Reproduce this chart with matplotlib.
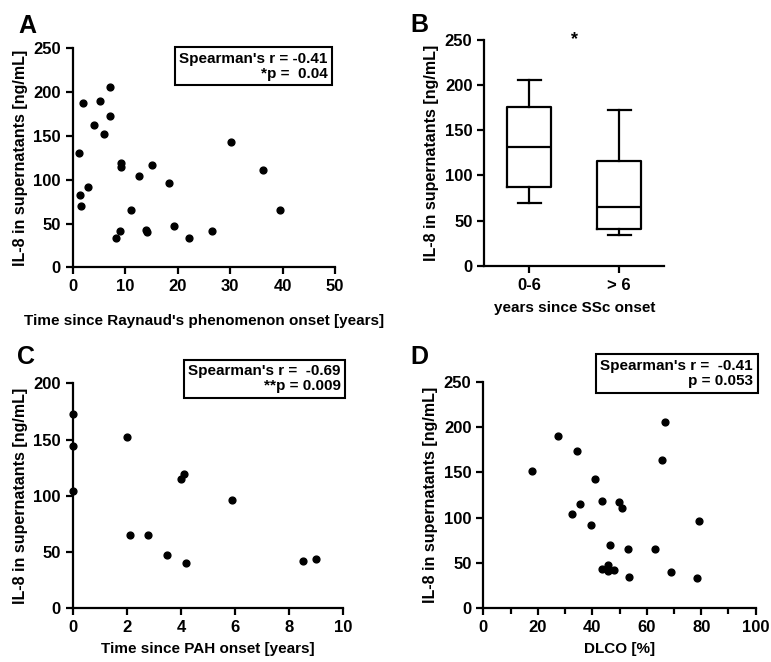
import matplotlib
matplotlib.use('Agg')
import matplotlib.pyplot as plt
from matplotlib.ticker import MultipleLocator

plt.rcParams['font.family'] = ['Liberation Sans', 'DejaVu Sans']
plt.rcParams['font.weight'] = 'bold'
plt.rcParams['font.size'] = 11

# Panel A: time since Raynaud's onset vs IL-8
a_x = [1.2, 1.3, 1.5, 2.0, 3.0, 4.1, 5.2, 6.0, 7.1, 7.2, 8.2, 9.1, 9.2, 9.2,
       11.1, 12.6, 14.0, 14.2, 15.2, 18.4, 19.4, 22.1, 26.5, 30.1, 36.3, 39.5]
a_y = [131, 83, 70, 187, 92, 163, 190, 152, 173, 206, 34, 42, 119, 115,
       65, 104, 43, 40, 117, 96, 47, 34, 41, 143, 111, 65]

# Panel B: box plot by years since SSc onset
b_labels = ['0-6', '> 6']
b_whislo = [70, 34]
b_q1 = [87, 41]
b_med = [131, 65]
b_q3 = [176, 116]
b_whishi = [206, 172]

# Panel C: time since PAH onset vs IL-8
c_x = [0, 0, 0, 2.0, 2.1, 2.8, 3.5, 4.0, 4.1, 4.2, 5.9, 8.5, 9.0]
c_y = [173, 144, 104, 152, 65.5, 65, 47, 115, 119, 40, 96, 42, 43.5]

# Panel D: DLCO vs IL-8
d_x = [17.9, 27.5, 32.4, 34.3, 35.5, 39.5, 41.1, 43.6, 43.6, 45.9, 45.9, 46.5,
       48.1, 49.9, 50.9, 53.2, 53.5, 63.2, 65.6, 66.7, 68.9, 78.3, 79.3]
d_y = [151.8, 190, 103.7, 173, 115, 92, 143, 118.8, 43, 47.8, 41.5, 70,
       42.6, 117, 111, 65.4, 34.6, 65, 163.6, 206, 39.7, 33.8, 96.3]

W, H = 771, 662
fig = plt.figure(figsize=(W / 100, H / 100), dpi=100)


def make_axes(x0, x1, ytop, ybot):
    return fig.add_axes([x0 / W, 1 - ybot / H, (x1 - x0) / W, (ybot - ytop) / H])


def style(ax):
    for s in ['top', 'right']:
        ax.spines[s].set_visible(False)
    for s in ['left', 'bottom']:
        ax.spines[s].set_linewidth(1.6)
    ax.tick_params(width=1.6, length=5, labelsize=12)
    ax.tick_params(which='minor', width=1.6, length=4)
    ax.set_ylabel('IL-8 in supernatants [ng/mL]', fontsize=11.5, fontweight='bold')


def stat_box(ax, text, x, y):
    ax.text(x, y, text, transform=ax.transAxes, ha='right', va='top',
            multialignment='right', fontsize=11, fontweight='bold', linespacing=1.1,
            bbox=dict(boxstyle='square,pad=0.3', facecolor='white', edgecolor='black', lw=1.5))


# A
axA = make_axes(72.7, 335, 48.3, 267.3)
axA.scatter(a_x, a_y, s=24, color='black', zorder=3, clip_on=False)
axA.set_xlim(0, 50)
axA.set_ylim(0, 250)
axA.xaxis.set_major_locator(MultipleLocator(10))
axA.yaxis.set_major_locator(MultipleLocator(50))
style(axA)
axA.set_xlabel("Time since Raynaud's phenomenon onset [years]", fontsize=11,
               fontweight='bold', labelpad=14)
stat_box(axA, "Spearman's r = -0.41\n*p =  0.04", 0.972, 0.985)

# B
axB = make_axes(484.3, 664.3, 40, 265.7)
stats = []
for i in range(len(b_labels)):
    stats.append(dict(med=b_med[i], q1=b_q1[i], q3=b_q3[i],
                      whislo=b_whislo[i], whishi=b_whishi[i], fliers=[]))
lp = dict(color='black', linewidth=1.6)
axB.bxp(stats, positions=[1, 2], widths=0.49, showfliers=False,
        boxprops=lp, medianprops=lp, whiskerprops=lp, capprops=lp, capwidths=0.25)
axB.set_xlim(0.5, 2.5)
axB.set_ylim(0, 250)
axB.yaxis.set_major_locator(MultipleLocator(50))
axB.set_xticks([1, 2])
axB.set_xticklabels(b_labels)
style(axB)
axB.set_xlabel('years since SSc onset', fontsize=11, fontweight='bold', labelpad=6)
axB.text(1.5, 250, '*', ha='center', va='center', fontsize=13, fontweight='bold')

# C
axC = make_axes(72.7, 343.3, 383.3, 608.3)
axC.scatter(c_x, c_y, s=24, color='black', zorder=3, clip_on=False)
axC.set_xlim(0, 10)
axC.set_ylim(0, 200)
axC.xaxis.set_major_locator(MultipleLocator(2))
axC.yaxis.set_major_locator(MultipleLocator(50))
style(axC)
axC.set_xlabel('Time since PAH onset [years]', fontsize=11, fontweight='bold', labelpad=5)
stat_box(axC, "Spearman's r =  -0.69\n**p = 0.009", 0.99, 1.085)

# D
axD = make_axes(483.3, 755.7, 381.7, 608.3)
axD.scatter(d_x, d_y, s=24, color='black', zorder=3, clip_on=False)
axD.set_xlim(0, 100)
axD.set_ylim(0, 250)
axD.xaxis.set_major_locator(MultipleLocator(20))
axD.xaxis.set_minor_locator(MultipleLocator(10))
axD.yaxis.set_major_locator(MultipleLocator(50))
style(axD)
axD.set_xlabel('DLCO [%]', fontsize=11, fontweight='bold', labelpad=5)
stat_box(axD, "Spearman's r =  -0.41\np = 0.053", 0.99, 1.1)

# panel letters
for letter, px, py in [('A', 18, 14), ('B', 410, 13), ('C', 17, 345), ('D', 410, 345)]:
    fig.text(px / W, 1 - py / H, letter, fontsize=18, fontweight='bold', ha='left', va='top')

fig.savefig('out.png', dpi=100)
